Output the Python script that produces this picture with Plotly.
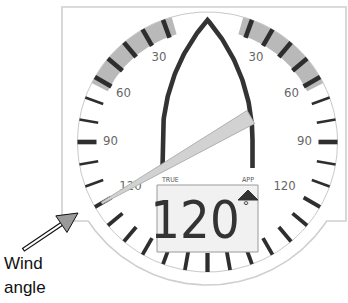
import numpy as np
import plotly.graph_objects as go

# ---------------- data ----------------
tick_angles = [20, 30, 40, 50, 60, 70, 80, 90, 100, 110, 120, 130, 140, 150, 160, 170, 180]
thick_ticks = [20, 30, 40, 50, 60, 90]
thin_ticks = [70, 80, 100, 110]
label_angles = [30, 60, 90, 120]
label_texts = ["30", "60", "90", "120"]
band_range = [16, 63]          # shaded close-hauled sector (deg off bow)
wind_angle = 120               # needle angle, port side
display_value = "120"
mode_labels = ["TRUE", "APP"]
caption_lines = ["Wind", "angle"]

# ---------------- geometry ----------------
W, H = 348, 303
CX, CY = 207.5, 142
R_OUT, R_IN, R_BEZEL = 130, 111, 143
R_LABEL = 97
PANEL = dict(x0=62, x1=346, y0=7, y1=221)
NARROW = "DejaVu Sans Condensed, sans-serif"


def pol(r, a_deg, side):
    a = np.radians(a_deg)
    return CX + side * r * np.sin(a), CY - r * np.cos(a)


fig = go.Figure()


def add_line(xs, ys, color, width, fill=None, fillcolor=None):
    fig.add_trace(go.Scatter(x=list(xs), y=list(ys), mode="lines",
                             line=dict(color=color, width=width),
                             fill=fill, fillcolor=fillcolor,
                             hoverinfo="skip", showlegend=False))


# panel outline with bezel bottom
dy = PANEL["y1"] - CY
dx = np.sqrt(R_BEZEL ** 2 - dy ** 2)
a0 = np.arctan2(dy, dx)
arc_t = np.linspace(a0, np.pi - a0, 80)
px = [CX - dx, PANEL["x0"], PANEL["x0"], PANEL["x1"], PANEL["x1"], CX + dx] + list(CX + R_BEZEL * np.cos(arc_t))
py = [PANEL["y1"], PANEL["y1"], PANEL["y0"], PANEL["y0"], PANEL["y1"], PANEL["y1"]] + list(CY + R_BEZEL * np.sin(arc_t))
add_line(px, py, "#cfcfcf", 1.6, fill="toself", fillcolor="white")

# shaded bands
for side in (-1, 1):
    a = np.linspace(band_range[0], band_range[1], 40)
    ox, oy = pol(R_OUT, a, side)
    ix, iy = pol(R_IN + 1, a[::-1], side)
    add_line(np.r_[ox, ix, ox[0]], np.r_[oy, iy, oy[0]], "rgba(0,0,0,0)", 0,
             fill="toself", fillcolor="#b9b9b9")

# outer thin circle
t = np.linspace(0, 2 * np.pi, 200)
add_line(CX + R_OUT * np.cos(t), CY + R_OUT * np.sin(t), "#c8c8c8", 1)

# ticks
groups = {"thick": ([], [], 4.6), "thin": ([], [], 2.6), "mid": ([], [], 3.8)}
for side in (-1, 1):
    for a in tick_angles:
        key = "thick" if a in thick_ticks else ("thin" if a in thin_ticks else "mid")
        x0, y0 = pol(R_OUT, a, side)
        x1, y1 = pol(R_IN, a, side)
        groups[key][0].extend([x0, x1, None])
        groups[key][1].extend([y0, y1, None])
for xs, ys, w in groups.values():
    add_line(xs, ys, "#2e2e2e", w)

# scale labels
lx, ly, lt = [], [], []
for side in (-1, 1):
    for a, s in zip(label_angles, label_texts):
        r = R_LABEL - (8 if a >= 120 else 0)
        x, y = pol(r, a, side)
        lx.append(x); ly.append(y); lt.append(s)
fig.add_trace(go.Scatter(x=lx, y=ly, mode="text", text=lt,
                         textfont=dict(family=NARROW, size=13, color="#666666"),
                         hoverinfo="skip", showlegend=False))

# boat outline (gothic arch)
HW, Y_VERT, Y_BOW, Y_END = 45, 140, 20, 168
RB = (HW ** 2 + (Y_VERT - Y_BOW) ** 2) / (2 * HW)
ys = np.linspace(Y_BOW, Y_VERT, 60)
off = HW - RB + np.sqrt(RB ** 2 - (Y_VERT - ys) ** 2)
path_x = [CX - HW] + list(CX - off[::-1]) + list(CX + off[1:]) + [CX + HW]
path_y = [Y_END] + list(ys[::-1]) + list(ys[1:]) + [Y_END]
add_line(path_x, path_y, "#333333", 4.6)

# needle (tapered wedge through the centre)
tip = np.array(pol(122, wind_angle, -1))
tail = np.array(pol(-50, wind_angle, -1))
d = tip - tail
d = d / np.hypot(*d)
n = np.array([-d[1], d[0]])
poly = [tail + n * 7.5, tip + n * 1.0, tip - n * 1.0, tail - n * 7.5, tail + n * 7.5]
add_line([p[0] for p in poly], [p[1] for p in poly], "#b0b0b0", 1,
         fill="toself", fillcolor="#d2d2d2")

# display box
BOX = dict(x0=157, x1=258, y0=185, y1=252)
add_line([BOX["x0"], BOX["x1"], BOX["x1"], BOX["x0"], BOX["x0"]],
         [BOX["y0"], BOX["y0"], BOX["y1"], BOX["y1"], BOX["y0"]],
         "#9a9a9a", 1, fill="toself", fillcolor="#f1f1f1")
# APP indicator triangle
add_line([238, 248, 258, 238], [200, 190, 200, 200], "#333333", 1,
         fill="toself", fillcolor="#333333")

fig.add_trace(go.Scatter(x=[162, 248], y=[180.5, 180], mode="text", text=mode_labels,
                         textposition=["middle right", "middle center"],
                         textfont=dict(family=NARROW, size=7, color="#555555"),
                         hoverinfo="skip", showlegend=False))
fig.add_trace(go.Scatter(x=[195], y=[225], mode="text", text=[display_value],
                         textfont=dict(family="DejaVu Sans Condensed, sans-serif", size=52, color="#333333"),
                         hoverinfo="skip", showlegend=False))
fig.add_trace(go.Scatter(x=[246], y=[207], mode="text", text=["°"],
                         textfont=dict(family="Liberation Sans, sans-serif", size=15, color="#333333"),
                         hoverinfo="skip", showlegend=False))

# caption arrow
ARROW_TAIL, ARROW_TIP = (23, 250), (78, 213)
tx, ty = ARROW_TAIL
hx, hy = ARROW_TIP
L = np.hypot(hx - tx, hy - ty)
ax_, ay_ = (hx - tx) / L, (hy - ty) / L
bxm, bym = hx - ax_ * 20, hy - ay_ * 20
add_line([tx, bxm], [ty, bym], "#111111", 4.5)
add_line([tx + ax_ * 1.2, bxm], [ty + ay_ * 1.2, bym], "white", 2)
add_line([hx, bxm - ay_ * 10, bxm + ay_ * 10, hx], [hy, bym + ax_ * 10, bym - ax_ * 10, hy],
         "#111111", 1, fill="toself", fillcolor="#9a9a9a")

fig.add_trace(go.Scatter(x=[4, 4], y=[265, 289], mode="text", text=caption_lines,
                         textposition="middle right",
                         textfont=dict(family="Liberation Sans, Arial, sans-serif", size=17, color="#111111"),
                         hoverinfo="skip", showlegend=False))

fig.update_layout(width=W, height=H, margin=dict(l=0, r=0, t=0, b=0),
                  paper_bgcolor="white", plot_bgcolor="white", showlegend=False,
                  xaxis=dict(range=[0, W], visible=False, fixedrange=True),
                  yaxis=dict(range=[H, 0], visible=False, fixedrange=True))
fig.write_html("out.html", config={"displayModeBar": False},
               post_script="document.body.style.margin='0';document.body.style.overflow='hidden';")
